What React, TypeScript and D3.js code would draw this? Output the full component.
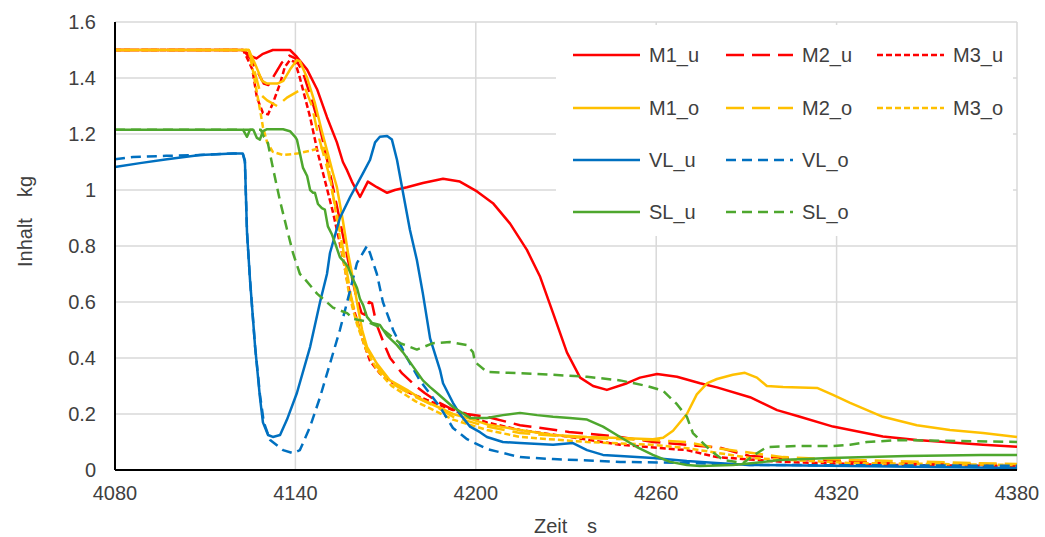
import React from "react";
import * as d3 from "d3";

type Pt = [number, number];

const xTicks = [4080, 4140, 4200, 4260, 4320, 4380];
const yTicks = [0, 0.2, 0.4, 0.6, 0.8, 1.0, 1.2, 1.4, 1.6];

const M1_u: Pt[] = [[4080,1.5],[4122.6,1.5],[4125,1.48],[4127,1.47],[4129,1.485],[4132.5,1.5],[4138.2,1.5],[4140.5,1.475],[4143.9,1.43],[4147.2,1.36],[4150.5,1.26],[4153.8,1.17],[4155.8,1.1],[4157.2,1.07],[4158.8,1.03],[4161.5,0.975],[4164.1,1.03],[4167.1,1.01],[4170.5,0.99],[4173.1,1.0],[4177.1,1.01],[4182.4,1.025],[4189.1,1.04],[4194.7,1.03],[4200.4,0.995],[4205.7,0.953],[4211.4,0.88],[4217,0.786],[4221.4,0.69],[4225.7,0.56],[4230.3,0.42],[4234.7,0.33],[4239,0.3],[4243.6,0.286],[4250.3,0.31],[4254.6,0.33],[4260.3,0.343],[4266.9,0.333],[4274.6,0.31],[4280.2,0.295],[4291.2,0.26],[4300.2,0.214],[4307.8,0.19],[4318.8,0.155],[4335.4,0.12],[4346.7,0.107],[4368.7,0.09],[4380,0.083]];

const M2_u: Pt[] = [[4080,1.5],[4122.6,1.5],[4125,1.47],[4127.5,1.42],[4129.5,1.38],[4131,1.375],[4133,1.41],[4135.5,1.455],[4138,1.48],[4140,1.47],[4142.5,1.42],[4145.5,1.32],[4148.2,1.22],[4150.5,1.11],[4152.5,1.01],[4155,0.88],[4157.5,0.75],[4160,0.63],[4162,0.56],[4163,0.555],[4164.5,0.6],[4165.5,0.595],[4167,0.52],[4169.5,0.45],[4171.5,0.4],[4175.5,0.345],[4180,0.3],[4183,0.275],[4187,0.245],[4191.5,0.22],[4197,0.2],[4203.7,0.19],[4214.7,0.16],[4231,0.136],[4248,0.118],[4259,0.1],[4270,0.09],[4281,0.08],[4291,0.05],[4313.5,0.036],[4335,0.025],[4380,0.018]];

const M3_u: Pt[] = [[4080,1.5],[4122.6,1.5],[4124,1.47],[4125.7,1.43],[4127.2,1.33],[4129.2,1.275],[4130.9,1.27],[4132.5,1.31],[4134.9,1.38],[4136.5,1.44],[4138.2,1.464],[4139.9,1.457],[4141.5,1.4],[4143.2,1.33],[4144.9,1.26],[4146.5,1.18],[4147.5,1.13],[4149.2,1.06],[4152.5,0.92],[4155.5,0.775],[4157.5,0.66],[4159.2,0.58],[4160.8,0.525],[4162.5,0.46],[4164.8,0.39],[4168.1,0.345],[4172.5,0.31],[4178.1,0.275],[4183.7,0.25],[4192.4,0.214],[4203.7,0.17],[4214.7,0.143],[4231.3,0.118],[4248,0.09],[4270.2,0.071],[4280.2,0.046],[4302.2,0.029],[4335.4,0.018],[4380,0.014]];

const M1_o: Pt[] = [[4080,1.5],[4124.5,1.5],[4126.6,1.45],[4128.9,1.39],[4130.6,1.38],[4134,1.38],[4136,1.39],[4138.2,1.43],[4140.5,1.464],[4141.5,1.46],[4143.9,1.4],[4146.5,1.31],[4148.8,1.21],[4150.8,1.13],[4152.5,1.06],[4153.8,1.01],[4155.8,0.89],[4157.5,0.775],[4159.2,0.68],[4160.8,0.58],[4162.2,0.5],[4163.8,0.44],[4167.1,0.38],[4171.5,0.32],[4177.1,0.286],[4182.4,0.25],[4192.4,0.2],[4199.1,0.18],[4203.7,0.163],[4214.7,0.143],[4225.7,0.125],[4237,0.118],[4248,0.114],[4258.9,0.11],[4262.3,0.115],[4265.6,0.14],[4270.2,0.2],[4273.5,0.27],[4277,0.31],[4280.2,0.325],[4285.5,0.34],[4289.5,0.347],[4293.5,0.33],[4296.8,0.3],[4302.2,0.296],[4313.5,0.293],[4318.8,0.268],[4324.5,0.24],[4335.4,0.19],[4346.7,0.16],[4357.7,0.143],[4368.7,0.132],[4380,0.118]];

const M2_o: Pt[] = [[4080,1.5],[4124.5,1.5],[4126.5,1.42],[4128.5,1.34],[4130.6,1.32],[4133.9,1.3],[4137.2,1.33],[4141.5,1.357],[4143.2,1.364],[4145.5,1.3],[4147.5,1.2],[4150.8,1.07],[4153.5,0.93],[4156,0.78],[4158.5,0.62],[4160.8,0.52],[4163.5,0.44],[4167,0.37],[4172,0.31],[4180,0.26],[4187,0.225],[4192.4,0.19],[4203.7,0.155],[4214.7,0.132],[4237,0.114],[4259,0.107],[4270.2,0.1],[4280.2,0.078],[4302.2,0.046],[4324.5,0.036],[4380,0.021]];

const M3_o: Pt[] = [[4080,1.5],[4124.5,1.5],[4126,1.42],[4128.5,1.27],[4129.2,1.225],[4130.6,1.17],[4132.5,1.136],[4135.9,1.125],[4140.5,1.13],[4144.9,1.14],[4148.2,1.15],[4149.5,1.15],[4151,1.08],[4153,0.95],[4155.5,0.78],[4158,0.62],[4160.5,0.52],[4163.5,0.43],[4167,0.36],[4172,0.3],[4180,0.245],[4192.4,0.18],[4203.7,0.143],[4214.7,0.118],[4237,0.1],[4259,0.09],[4270.2,0.078],[4291.2,0.043],[4324.5,0.025],[4380,0.018]];

const VL_u: Pt[] = [[4080,1.082],[4088.3,1.096],[4097.3,1.11],[4108.3,1.125],[4119.3,1.13],[4122.5,1.13],[4123.2,1.107],[4123.9,0.85],[4124.9,0.68],[4126.6,0.44],[4128.2,0.26],[4129.2,0.17],[4130.9,0.125],[4132.5,0.118],[4134.9,0.125],[4137.2,0.18],[4140.5,0.275],[4144.9,0.44],[4148.2,0.6],[4150.5,0.7],[4151.5,0.775],[4154.8,0.9],[4158.2,0.975],[4162.5,1.06],[4164.8,1.107],[4166.5,1.17],[4168.1,1.19],[4170.5,1.193],[4172.1,1.18],[4173.8,1.107],[4175.8,0.99],[4178.1,0.857],[4180.4,0.75],[4182.4,0.63],[4184.8,0.47],[4188.1,0.357],[4189.1,0.31],[4192.4,0.24],[4194.7,0.2],[4198.1,0.155],[4201.4,0.135],[4203.7,0.118],[4209,0.1],[4214.7,0.096],[4225.7,0.09],[4232.3,0.096],[4237,0.071],[4242.3,0.054],[4248,0.05],[4259,0.043],[4270.2,0.032],[4280,0.025],[4291.2,0.018],[4324.5,0.014],[4380,0.007]];

const VL_o: Pt[] = [[4080,1.11],[4086,1.118],[4097,1.122],[4108.3,1.125],[4119.3,1.13],[4122.5,1.13],[4123.2,1.1],[4123.9,0.85],[4124.9,0.68],[4126.6,0.44],[4128.2,0.27],[4129.5,0.17],[4131.6,0.107],[4135.9,0.071],[4139.2,0.06],[4141.5,0.071],[4144.9,0.155],[4148.2,0.26],[4151.5,0.38],[4154.8,0.5],[4157.2,0.6],[4160.5,0.74],[4163.8,0.8],[4164.8,0.775],[4167.1,0.7],[4169.1,0.6],[4172.5,0.5],[4177.1,0.4],[4181.4,0.32],[4188.1,0.225],[4192.4,0.15],[4197.1,0.11],[4203.7,0.075],[4214.7,0.046],[4225.7,0.039],[4248,0.029],[4270.2,0.025],[4291.2,0.018],[4380,0.015]];

const SL_u: Pt[] = [[4080,1.215],[4122.6,1.215],[4123.9,1.19],[4124.9,1.215],[4126,1.215],[4127.2,1.186],[4128.2,1.18],[4129.2,1.21],[4130.6,1.217],[4135.9,1.217],[4138.2,1.21],[4139.9,1.19],[4140.5,1.18],[4141.5,1.13],[4142.5,1.08],[4143.9,1.05],[4144.9,1.0],[4145.9,0.99],[4146.5,0.99],[4147.5,0.95],[4148.8,0.935],[4149.8,0.93],[4150.8,0.87],[4152.2,0.84],[4153.2,0.81],[4154.8,0.76],[4156.5,0.74],[4157.5,0.725],[4158.8,0.69],[4160.5,0.65],[4161.5,0.61],[4162.5,0.59],[4163.8,0.547],[4165.5,0.525],[4168.1,0.518],[4170.5,0.48],[4173.8,0.446],[4175.8,0.42],[4179.1,0.37],[4182.4,0.32],[4184.8,0.296],[4187.1,0.275],[4192.4,0.225],[4198.1,0.186],[4203.7,0.186],[4209,0.196],[4214.7,0.204],[4220.4,0.196],[4225.7,0.19],[4231.3,0.186],[4237,0.18],[4242.3,0.155],[4248,0.118],[4253.6,0.082],[4258.9,0.054],[4264.6,0.029],[4270.2,0.018],[4274.6,0.014],[4285.5,0.018],[4296.8,0.03],[4301.2,0.036],[4317.8,0.043],[4343.4,0.05],[4368,0.054],[4380,0.054]];

const SL_o: Pt[] = [[4080,1.215],[4128.5,1.215],[4129.5,1.19],[4130.6,1.18],[4132.5,1.08],[4134.9,0.96],[4137.2,0.86],[4139.2,0.775],[4141.5,0.7],[4142.5,0.69],[4147.2,0.63],[4152.5,0.58],[4157.2,0.56],[4159.2,0.54],[4163.8,0.53],[4168.1,0.51],[4174.8,0.453],[4180.4,0.43],[4185.8,0.453],[4191.4,0.457],[4197.1,0.446],[4199.1,0.42],[4199.7,0.386],[4203.7,0.35],[4214.7,0.346],[4225.7,0.34],[4237,0.333],[4248,0.32],[4256.9,0.3],[4262.3,0.283],[4266.9,0.235],[4270.2,0.19],[4272.2,0.132],[4277.9,0.071],[4282.2,0.036],[4288.9,0.025],[4293.5,0.06],[4296.8,0.082],[4307.8,0.086],[4318.8,0.086],[4324.5,0.09],[4330.1,0.1],[4341.1,0.107],[4380,0.1]];

const RED = "#FF0000";
const YEL = "#FFC000";
const BLUE = "#0070C0";
const GREEN = "#4EA72E";
const LONG = "18,8";
const SHORT = "6,3";
const DASH = "10,6";

const series = [
  { name: "M1_u", data: M1_u, color: RED, dash: "", row: 0, col: 0 },
  { name: "M2_u", data: M2_u, color: RED, dash: LONG, row: 0, col: 1 },
  { name: "M3_u", data: M3_u, color: RED, dash: SHORT, row: 0, col: 2 },
  { name: "M1_o", data: M1_o, color: YEL, dash: "", row: 1, col: 0 },
  { name: "M2_o", data: M2_o, color: YEL, dash: LONG, row: 1, col: 1 },
  { name: "M3_o", data: M3_o, color: YEL, dash: SHORT, row: 1, col: 2 },
  { name: "VL_u", data: VL_u, color: BLUE, dash: "", row: 2, col: 0 },
  { name: "VL_o", data: VL_o, color: BLUE, dash: DASH, row: 2, col: 1 },
  { name: "SL_u", data: SL_u, color: GREEN, dash: "", row: 3, col: 0 },
  { name: "SL_o", data: SL_o, color: GREEN, dash: DASH, row: 3, col: 1 },
];

const W = 1045;
const H = 537;
const L = 115, R = 1017, T = 22, B = 470;
const FONT = "'Liberation Sans', Arial, sans-serif";
const TXT = "#404040";

export default function App() {
  const x = d3.scaleLinear().domain([4080, 4380]).range([L, R]);
  const y = d3.scaleLinear().domain([0, 1.6]).range([B, T]);
  const line = d3.line<Pt>().x((d) => x(d[0])).y((d) => y(d[1]));

  const legCols = [573, 726, 877];
  const legRows = [55, 108, 160, 212];

  return (
    <svg width={W} height={H} style={{ position: "absolute", left: 0, top: 0, background: "#fff" }} fontFamily={FONT}>
      <rect x={0} y={0} width={W} height={H} fill="#fff" />
      {yTicks.filter((v) => v > 0).map((v) => (
        <line key={"hy" + v} x1={L} x2={R} y1={y(v)} y2={y(v)} stroke="#d9d9d9" strokeWidth={1.5} />
      ))}
      {xTicks.filter((v) => v > 4080).map((v) => (
        <line key={"gx" + v} x1={x(v)} x2={x(v)} y1={T} y2={B} stroke="#d9d9d9" strokeWidth={1.5} />
      ))}
      {series.map((s) => (
        <path key={s.name} d={line(s.data) || ""} fill="none" stroke={s.color} strokeWidth={2.5}
          strokeDasharray={s.dash || undefined} strokeLinejoin="round" />
      ))}
      <line x1={L} x2={L} y1={T} y2={B} stroke="#000" strokeWidth={2} />
      <line x1={L} x2={R} y1={B} y2={B} stroke="#000" strokeWidth={2} />
      {yTicks.map((v) => (
        <text key={"ty" + v} x={96} y={y(v) + 7} textAnchor="end" fontSize={20} fill={TXT}>
          {d3.format("~g")(v)}
        </text>
      ))}
      {xTicks.map((v) => (
        <text key={"tx" + v} x={x(v)} y={500} textAnchor="middle" fontSize={20} fill={TXT}>
          {v}
        </text>
      ))}
      <text x={534} y={533} fontSize={20} fill={TXT}>Zeit</text>
      <text x={587} y={533} fontSize={20} fill={TXT}>s</text>
      <g transform="translate(32,267) rotate(-90)">
        <text x={0} y={0} fontSize={20} fill={TXT}>Inhalt</text>
        <text x={70} y={0} fontSize={20} fill={TXT}>kg</text>
      </g>
      <rect x={556} y={25} width={457} height={211} fill="#fff" />
      {series.map((s) => {
        const lx = legCols[s.col];
        const ly = legRows[s.row];
        return (
          <g key={"lg" + s.name}>
            <line x1={lx} x2={lx + 67} y1={ly} y2={ly} stroke={s.color} strokeWidth={2.5}
              strokeDasharray={s.dash || undefined} />
            <text x={lx + 76} y={ly + 7} fontSize={20} fill={TXT}>{s.name}</text>
          </g>
        );
      })}
    </svg>
  );
}
